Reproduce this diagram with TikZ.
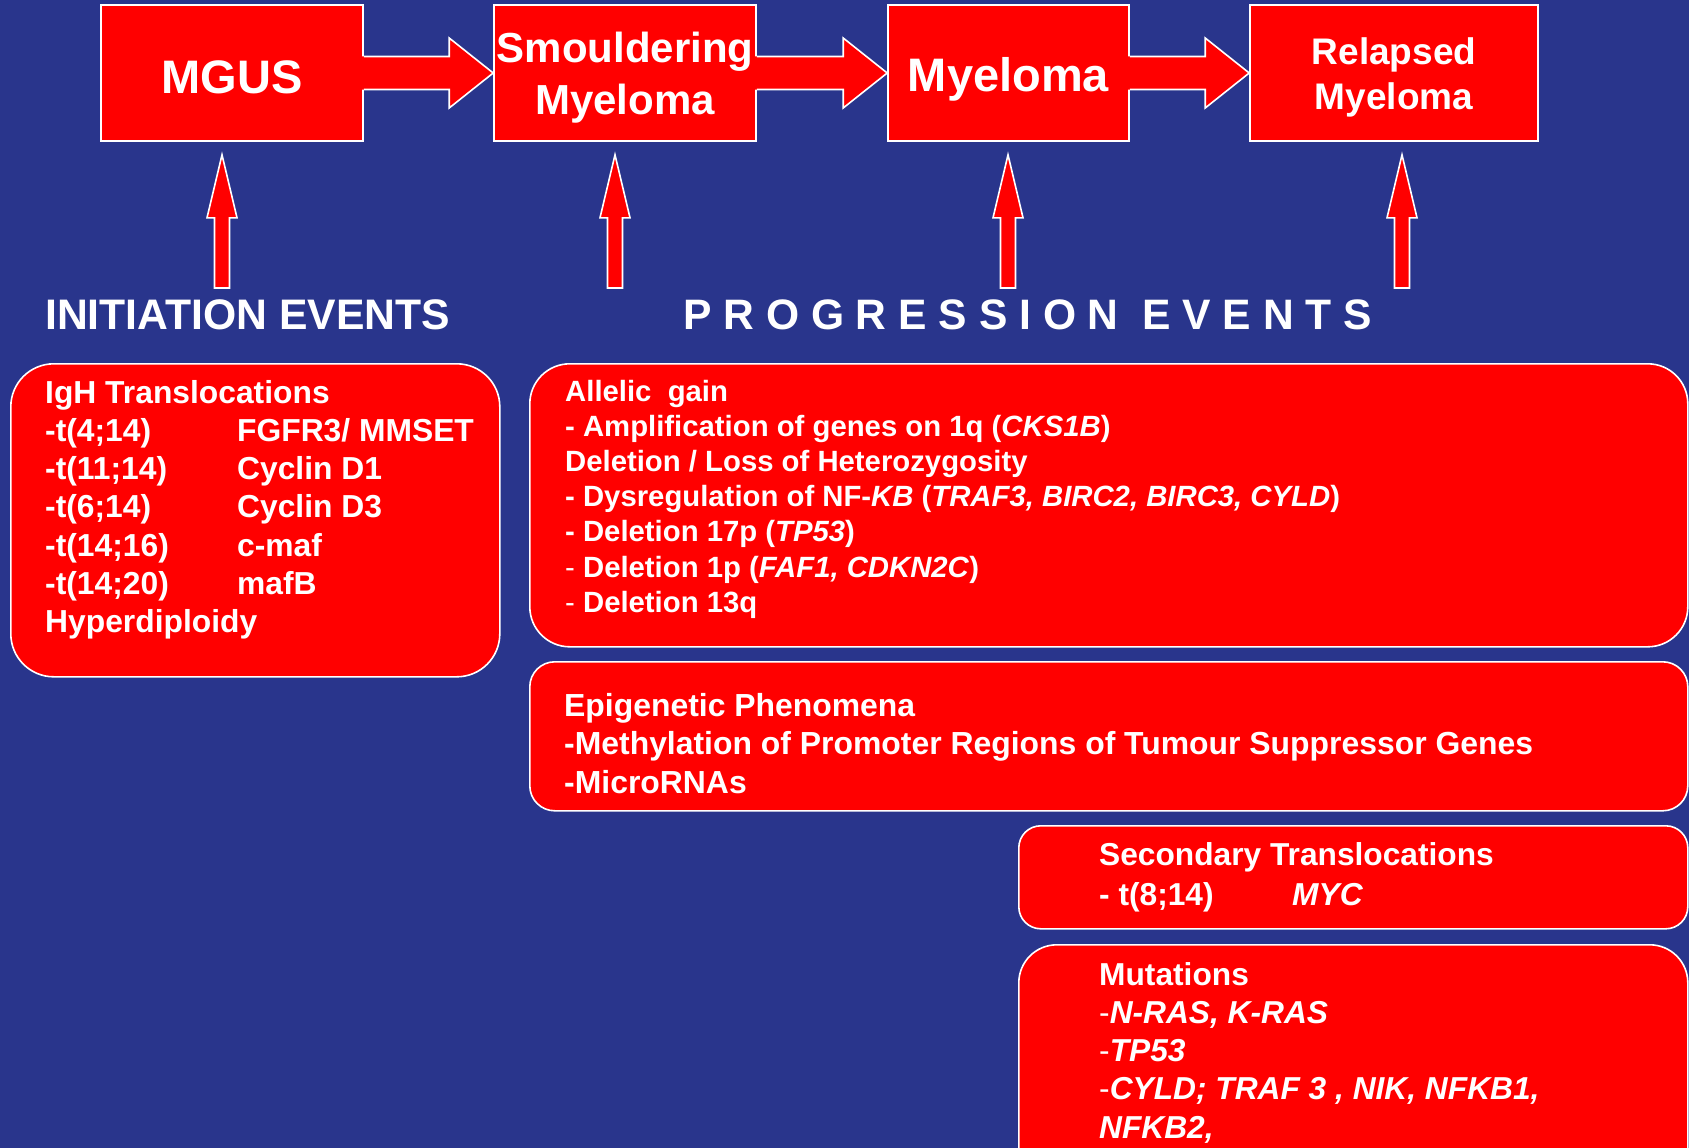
\documentclass[tikz,border=0pt]{standalone}
\usepackage{fontspec}
\setmainfont{Liberation Sans}
\usetikzlibrary{calc}
\definecolor{bgblue}{RGB}{41,53,140}
\definecolor{boxred}{RGB}{255,0,0}
\tikzset{
  stagebox/.style={draw=white, line width=1.6pt, fill=boxred, rectangle, inner sep=0pt},
  infobox/.style={draw=white, line width=1.6pt, fill=boxred, rectangle, inner sep=0pt, anchor=north west},
  txt/.style={text=white, inner sep=0pt, font=\bfseries},
  arrowline/.style={draw=white, line width=1.6pt, line join=miter},
}
\newcommand\stagearrow[2]{%
  \fill[boxred] ($(#1.east)+(-2,-16.5)$) -- ($(#2.west)+(-44,-16.5)$) -- ($(#2.west)+(-44,-35)$) -- (#2.west)
     -- ($(#2.west)+(-44,35)$) -- ($(#2.west)+(-44,16.5)$) -- ($(#1.east)+(-2,16.5)$) -- cycle;
  \draw[arrowline] ($(#1.east)+(0,-16.5)$) -- ($(#2.west)+(-44,-16.5)$) -- ($(#2.west)+(-44,-35)$) -- (#2.west)
     -- ($(#2.west)+(-44,35)$) -- ($(#2.west)+(-44,16.5)$) -- ($(#1.east)+(0,16.5)$);
}
\newcommand\eventarrow[2]{%
  \coordinate (#1tip) at ($(#1 |- #2.south)+(0,13)$);
  \path[fill=boxred, arrowline] ($(#1)+(-7.5,0)$) -- ($(#1tip)+(-7.5,63)$) -- ($(#1tip)+(-15,63)$) -- (#1tip)
     -- ($(#1tip)+(15,63)$) -- ($(#1tip)+(7.5,63)$) -- ($(#1)+(7.5,0)$) -- cycle;
}
\begin{document}
\begin{tikzpicture}[x=1pt, y=-1pt]
\useasboundingbox (0,0) rectangle (1689,1148);
\fill[bgblue] (0,0) rectangle (1689,1148);
\clip (0,0) rectangle (1689,1148);

% stage boxes
\node[stagebox, minimum width=262pt, minimum height=136pt] (mgus) at (232,73) {};
\node[stagebox, minimum width=262pt, minimum height=136pt] (smould) at (625,73) {};
\node[stagebox, minimum width=241pt, minimum height=136pt] (myel) at (1008.5,73) {};
\node[stagebox, minimum width=288pt, minimum height=136pt] (relap) at (1394,73) {};

\node[txt, anchor=base, font=\bfseries\fontsize{47}{52}\selectfont] (mgustxt) at (232,93) {MGUS};
\node[txt, anchor=base] (smouldtxt) at (625,63) {\fontsize{42}{52}\selectfont\begin{tabular}[t]{@{}c@{}}Smouldering\\Myeloma\end{tabular}};
\node[txt, anchor=base, font=\bfseries\fontsize{47}{52}\selectfont] (myeltxt) at (1008.5,92) {Myeloma};
\node[txt, anchor=base] (relaptxt) at (1394,65) {\fontsize{37}{45}\selectfont\begin{tabular}[t]{@{}c@{}}Relapsed\\Myeloma\end{tabular}};

% block arrows between stages
\stagearrow{mgus}{smould}
\stagearrow{smould}{myel}
\stagearrow{myel}{relap}

% event arrows
\coordinate (ua) at (222,288);
\coordinate (ub) at (615,288);
\coordinate (uc) at (1008,288);
\coordinate (ud) at (1402,288);
\eventarrow{ua}{mgus}
\eventarrow{ub}{smould}
\eventarrow{uc}{myel}
\eventarrow{ud}{relap}

% headings
\node[txt, anchor=base west, font=\bfseries\fontsize{42.7}{50}\selectfont] (inith) at (45,329) {INITIATION EVENTS};
\node[txt, anchor=base west, font=\bfseries\fontsize{42.6}{50}\selectfont] (progh) at (683,329) {P R O G R E S S I O N\ \ E V E N T S};

% info boxes
\node[infobox, rounded corners=43pt, minimum width=489pt, minimum height=313pt] (initbox) at (10,363) {};
\node[infobox, rounded corners=40pt, minimum width=1158pt, minimum height=283pt] (gainbox) at (529,363) {};
\node[infobox, rounded corners=25pt, minimum width=1158pt, minimum height=149pt] (epibox) at (529,661) {};
\node[infobox, rounded corners=22pt, minimum width=669pt, minimum height=103pt] (secbox) at (1018,825) {};
\node[infobox, rounded corners=38pt, minimum width=669pt, minimum height=250pt] (mutbox) at (1018,944) {};

\node[txt, anchor=base west] (inittxt) at (45,403) {\fontsize{31.8}{38.3}\selectfont
\begin{tabular}[t]{@{}l@{}}
IgH Translocations\\
\makebox[192pt][l]{-t(4;14)}FGFR3/ MMSET\\
\makebox[192pt][l]{-t(11;14)}Cyclin D1\\
\makebox[192pt][l]{-t(6;14)}Cyclin D3\\
\makebox[192pt][l]{-t(14;16)}c-maf\\
\makebox[192pt][l]{-t(14;20)}mafB\\
Hyperdiploidy
\end{tabular}};

\node[txt, anchor=base west] (gaintxt) at (565,401) {\fontsize{29.3}{35.2}\selectfont
\begin{tabular}[t]{@{}l@{}}
Allelic\ \ gain\\
- Amplification of genes on 1q (\textit{CKS1B})\\
Deletion / Loss of Heterozygosity\\
- Dysregulation of NF-\textit{KB} (\textit{TRAF3, BIRC2, BIRC3, CYLD})\\
- Deletion 17p (\textit{TP53})\\
{\mdseries -} Deletion 1p (\textit{FAF1, CDKN2C})\\
{\mdseries -} Deletion 13q
\end{tabular}};

\node[txt, anchor=base west] (epitxt) at (564,716) {\fontsize{31.9}{38.5}\selectfont
\begin{tabular}[t]{@{}l@{}}
Epigenetic Phenomena\\
-Methylation of Promoter Regions of Tumour Suppressor Genes\\
-MicroRNAs
\end{tabular}};

\node[txt, anchor=base west] (sectxt) at (1099,865) {\fontsize{31.7}{40}\selectfont
\begin{tabular}[t]{@{}l@{}}
Secondary Translocations\\
\makebox[193pt][l]{- t(8;14)}\textit{MYC}
\end{tabular}};

\node[txt, anchor=base west] (muttxt) at (1099,985) {\fontsize{31.7}{38.3}\selectfont
\begin{tabular}[t]{@{}l@{}}
Mutations\\
{\mdseries -}\textit{N-RAS, K-RAS}\\
{\mdseries -}\textit{TP53}\\
{\mdseries -}\textit{CYLD; TRAF 3 , NIK, NFKB1,}\\
\textit{NFKB2,}
\end{tabular}};
\end{tikzpicture}
\end{document}
